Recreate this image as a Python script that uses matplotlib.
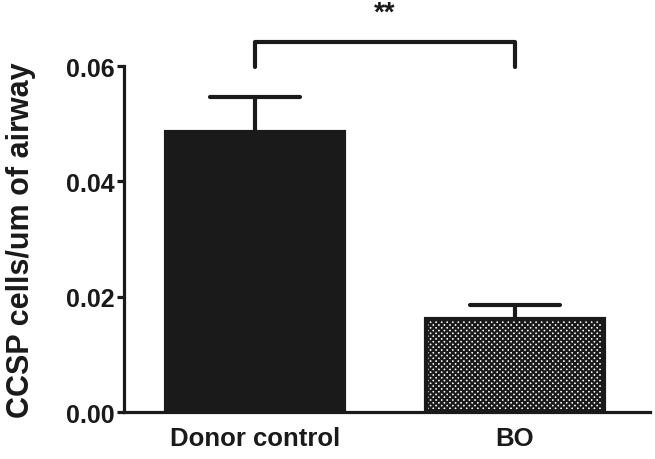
import matplotlib
matplotlib.use("Agg")
import matplotlib.pyplot as plt

categories = ["Donor control", "BO"]
means = [0.0486, 0.0162]
sems = [0.0060, 0.0024]
yticks = [0.00, 0.02, 0.04, 0.06]
ytick_labels = ["0.00", "0.02", "0.04", "0.06"]
ylabel = "CCSP cells/um of airway"
sig_label = "**"

plt.rcParams['font.family'] = ['Liberation Sans', 'DejaVu Sans']
plt.rcParams['hatch.linewidth'] = 1.6

fig = plt.figure(figsize=(6.55, 4.6), dpi=100)
ax = fig.add_axes([0.189, 0.102, 0.803, 0.752])

dark = "#1a1a1a"
x = list(range(len(categories)))
lw = 3.0
bars = ax.bar(x, means, width=0.685, color=[dark, "white"],
              edgecolor=dark, linewidth=lw, zorder=2)
bars[1].set_hatch("xxxxxx")
bars[1].set_edgecolor(dark)

for xi, m, s in zip(x, means, sems):
    ax.plot([xi, xi], [m, m + s], color=dark, lw=lw, zorder=1, solid_capstyle="butt")
    ax.plot([xi - 0.173, xi + 0.173], [m + s, m + s], color=dark, lw=lw, zorder=1,
            solid_capstyle="round")

# significance bracket
yb = 0.0642
yl = 0.0598
ax.plot([x[0], x[0], x[1], x[1]], [yl, yb, yb, yl], color=dark, lw=lw,
        clip_on=False, solid_capstyle="round", solid_joinstyle="round")
ax.text((x[0] + x[1]) / 2, 0.0693, sig_label, ha="center", va="center",
        fontsize=20, fontweight="bold", color=dark, clip_on=False)

ax.set_xlim(-0.504, 0.519 + 1)
ax.set_ylim(0, 0.06)
ax.set_yticks(yticks)
ax.set_yticklabels(ytick_labels)
ax.set_xticks(x)
ax.set_xticklabels(categories)
ax.set_ylabel(ylabel, fontsize=22, fontweight="bold", color=dark, va="center")
ax.yaxis.set_label_coords(-0.196, 0.5)

for sp in ["top", "right"]:
    ax.spines[sp].set_visible(False)
for sp in ["left", "bottom"]:
    ax.spines[sp].set_linewidth(2.3)
    ax.spines[sp].set_color(dark)

ax.tick_params(axis="y", length=5, width=2.3, labelsize=18, pad=1.5, colors=dark)
ax.tick_params(axis="x", length=0, labelsize=18.5, pad=10, colors=dark)
for lab in ax.get_xticklabels() + ax.get_yticklabels():
    lab.set_fontweight("bold")

fig.savefig("out.png", dpi=100)
